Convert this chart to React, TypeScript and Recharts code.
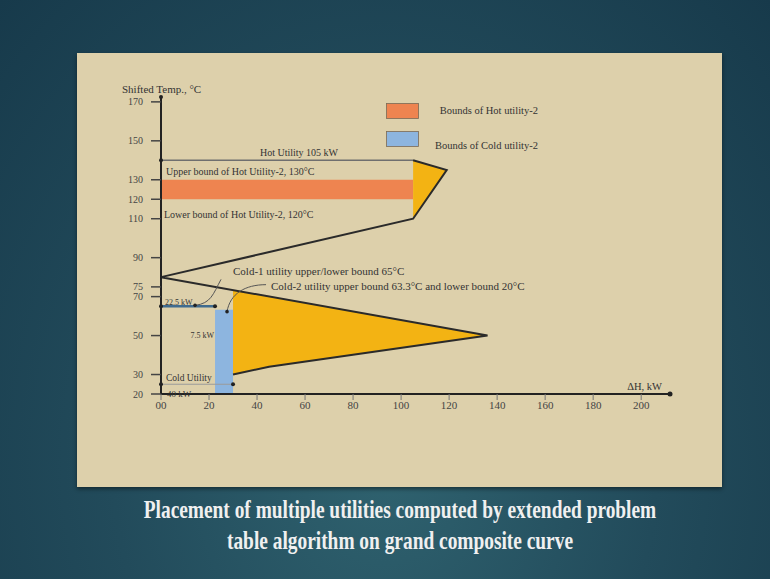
import { ComposedChart, XAxis, YAxis, Line, Area, ReferenceArea, ReferenceDot, Legend } from "recharts"

const font = "'Liberation Serif', 'Times New Roman', serif"
const INK = "#333"
const ORANGE = "#EE8450"
const BLUE = "#8DB5DF"
const YELLOW = "#F3B313"

// grand composite curve (shifted temp vs ΔH)
const gccH = [105, 119, 105, 0, 136, 45, 30]
const gccT = [140, 135, 110, 80, 50, 34, 30]

// pockets filled in yellow: [low, high] temperature at each ΔH
const hotPocketH = [105, 119]
const hotPocketLow = [110, 135]
const hotPocketHigh = [140, 135]
const coldPocketH = [30, 45, 136]
const coldPocketLow = [30, 34, 50]
const coldPocketHigh = [73.4, 70.1, 50]

// utility lines
const hotUtilityH = [0, 105]
const hotUtilityT = 140
const cold1H = [0, 22.5]
const cold1T = 65
const coldUtilityH = [0, 30]
const coldUtilityT = 25

// bounds of hot utility-2 / cold utility-2
const hotBoundT = [120, 130]
const hotBoundH = [0, 105]
const coldBoundT = [20, 63.3]
const coldBoundH = [22.5, 30]

const xTicks = [0, 20, 40, 60, 80, 100, 120, 140, 160, 180, 200]
const yTicks = [20, 30, 50, 70, 75, 90, 110, 120, 130, 150, 170]

const legendItems = [
  { label: "Bounds of Hot utility-2", color: ORANGE },
  { label: "Bounds of Cold  utility-2", color: BLUE },
]

const captionLines = [
  "Placement of multiple utilities computed by extended problem",
  "table algorithm on grand composite curve",
]

const gcc = gccH.map((h, i) => ({ h, t: gccT[i] }))
const hotPocket = hotPocketH.map((h, i) => ({ h, t: [hotPocketLow[i], hotPocketHigh[i]] }))
const coldPocket = coldPocketH.map((h, i) => ({ h, t: [coldPocketLow[i], coldPocketHigh[i]] }))
const hotUtility = hotUtilityH.map((h) => ({ h, t: hotUtilityT }))
const cold1 = cold1H.map((h) => ({ h, t: cold1T }))
const coldUtility = coldUtilityH.map((h) => ({ h, t: coldUtilityT }))

const Note = ({ cx, cy, dx = 0, dy = 0, size = 10, anchor = "start", children }: any) => (
  <text x={cx + dx} y={cy + dy} fontSize={size} fontFamily={font} fill={INK} textAnchor={anchor}>
    {children}
  </text>
)

const note = (text: string, dx: number, dy: number, size = 10, anchor = "start") => (p: any) => (
  <Note cx={p.cx} cy={p.cy} dx={dx} dy={dy} size={size} anchor={anchor}>{text}</Note>
)

const EndDot = (p: any) => <circle cx={p.cx} cy={p.cy} r={2} fill="#222" />

// curved call-out arrows, drawn relative to the point they explain
const arrow = (sx: number, sy: number, c1x: number, c1y: number, c2x: number, c2y: number, tx: number, ty: number) => (p: any) => (
  <g>
    <path
      d={`M${p.cx + sx},${p.cy + sy} C${p.cx + c1x},${p.cy + c1y} ${p.cx + c2x},${p.cy + c2y} ${p.cx + tx},${p.cy + ty}`}
      fill="none"
      stroke="#555"
      strokeWidth={1}
    />
    <circle cx={p.cx + tx} cy={p.cy + ty} r={1.8} fill="#222" />
  </g>
)

const LegendBox = () => (
  <svg width={160} height={52}>
    {legendItems.map((it, i) => (
      <g key={it.label}>
        <rect x={0.5} y={0.5 + i * 28} width={32} height={15} fill={it.color} stroke="#7a6a55" strokeWidth={0.8} />
        <text x={152} y={11 + i * 35} textAnchor="end" fontSize={10.5} fontFamily={font} fill={INK}>
          {it.label}
        </text>
      </g>
    ))}
  </svg>
)

export default function App() {
  return (
    <div
      style={{
        position: "absolute",
        left: 0,
        top: 0,
        width: 770,
        height: 579,
        overflow: "hidden",
        background: "radial-gradient(ellipse at 50% 80%, #2f626f 0%, #224b5b 50%, #173a4b 100%)",
      }}
    >
      <div
        style={{
          position: "absolute",
          left: 77,
          top: 53,
          width: 645,
          height: 434,
          background: "#DDD0AB",
          boxShadow: "0 2px 4px rgba(0,0,0,0.45)",
        }}
      />
      <div style={{ position: "absolute", left: 0, top: 0 }}>
        <ComposedChart width={770} height={579} margin={{ top: 97, right: 100, bottom: 155, left: 121 }}>
          <XAxis
            type="number"
            dataKey="h"
            domain={[0, 212]}
            ticks={xTicks}
            interval={0}
            tickFormatter={(v: number) => (v === 0 ? "00" : String(v))}
            axisLine={{ stroke: "#222", strokeWidth: 2 }}
            tickLine={{ stroke: "#777" }}
            tickSize={6}
            tickMargin={1}
            tick={{ fontSize: 11, fontFamily: font, fill: "#444" }}
            height={30}
          />
          <YAxis
            type="number"
            dataKey="t"
            domain={[20, 172.5]}
            ticks={yTicks}
            interval={0}
            axisLine={{ stroke: "#222", strokeWidth: 2 }}
            tickLine={{ stroke: "#444", strokeWidth: 1.5 }}
            tickSize={10}
            tickMargin={8}
            tick={{ fontSize: 10, fontFamily: font, fill: "#444" }}
            width={40}
          />
          <Legend
            layout="vertical"
            verticalAlign="middle"
            align="center"
            content={<LegendBox />}
            wrapperStyle={{ position: "absolute", left: 386, top: 103, width: 160, height: 52 }}
          />

          <ReferenceArea x1={hotBoundH[0]} x2={hotBoundH[1]} y1={hotBoundT[0]} y2={hotBoundT[1]} fill={ORANGE} fillOpacity={1} stroke="none" />
          <ReferenceArea x1={coldBoundH[0]} x2={coldBoundH[1]} y1={coldBoundT[0]} y2={coldBoundT[1]} fill={BLUE} fillOpacity={1} stroke="none" />

          <Area data={hotPocket} dataKey="t" type="linear" fill={YELLOW} fillOpacity={1} stroke="none" isAnimationActive={false} />
          <Area data={coldPocket} dataKey="t" type="linear" fill={YELLOW} fillOpacity={1} stroke="none" isAnimationActive={false} />

          <Line data={coldUtility} dataKey="t" type="linear" stroke="#9a9a9a" strokeWidth={1} dot={<EndDot />} isAnimationActive={false} />
          <Line data={cold1} dataKey="t" type="linear" stroke="#3f6b8f" strokeWidth={2.5} dot={<EndDot />} isAnimationActive={false} />
          <Line data={hotUtility} dataKey="t" type="linear" stroke="#6f6f6f" strokeWidth={1.5} dot={false} isAnimationActive={false} />
          <Line data={gcc} dataKey="t" type="linear" stroke="#2a2a2a" strokeWidth={2} dot={false} isAnimationActive={false} />

          <ReferenceDot x={0} y={hotUtilityT} r={2} fill="#222" stroke="none" />
          <ReferenceDot x={0} y={172.5} r={2} fill="#222" stroke="none" />
          <ReferenceDot x={212} y={20} r={2.5} fill="#222" stroke="none" />

          <ReferenceDot x={0} y={172.5} r={0} shape={note("Shifted Temp., °C", -39, -4, 11)} />
          <ReferenceDot x={212} y={20} r={0} shape={note("ΔH, kW", -8, -4, 10.5, "end")} />
          <ReferenceDot x={0} y={hotUtilityT} r={0} shape={note("Hot Utility 105 kW", 99, -4, 10)} />
          <ReferenceDot x={0} y={hotBoundT[1]} r={0} shape={note("Upper bound of Hot Utility-2, 130°C", 5, -5, 10)} />
          <ReferenceDot x={0} y={hotBoundT[0]} r={0} shape={note("Lower bound of Hot Utility-2, 120°C", 3, 19, 10)} />
          <ReferenceDot x={0} y={cold1T} r={0} shape={note("22.5 kW", 4, -1, 8)} />
          <ReferenceDot x={coldBoundH[0]} y={50} r={0} shape={note("7.5 kW", -1, 2, 8, "end")} />
          <ReferenceDot x={0} y={coldUtilityT} r={0} shape={note("Cold Utility", 5, -3, 9.5)} />
          <ReferenceDot x={0} y={20} r={0} shape={note("40 kW", 6, 3, 9)} />

          <ReferenceDot x={cold1H[1]} y={cold1T} r={0} shape={arrow(6, -27, -2, -12, -4, -3, -20, -1)} />
          <ReferenceDot x={cold1H[1]} y={cold1T} r={0} shape={note("Cold-1 utility upper/lower bound 65°C", 18, -31, 11)} />
          <ReferenceDot x={coldBoundH[1]} y={coldBoundT[1]} r={0} shape={arrow(33, -25, 12, -25, -3, -16, -6, 2)} />
          <ReferenceDot x={coldBoundH[1]} y={coldBoundT[1]} r={0} shape={note("Cold-2 utility upper bound 63.3°C and lower bound 20°C", 38, -20, 11)} />
        </ComposedChart>
      </div>
      {captionLines.map((line, i) => (
        <div
          key={i}
          style={{
            position: "absolute",
            left: 0,
            width: 800,
            top: 496 + i * 31,
            textAlign: "center",
            whiteSpace: "nowrap",
            fontFamily: font,
            fontWeight: "bold",
            fontSize: 25,
            lineHeight: "28px",
            color: "#f0f0f0",
            transform: "scaleX(0.775)",
            transformOrigin: "400px 0",
          }}
        >
          {line}
        </div>
      ))}
    </div>
  )
}
